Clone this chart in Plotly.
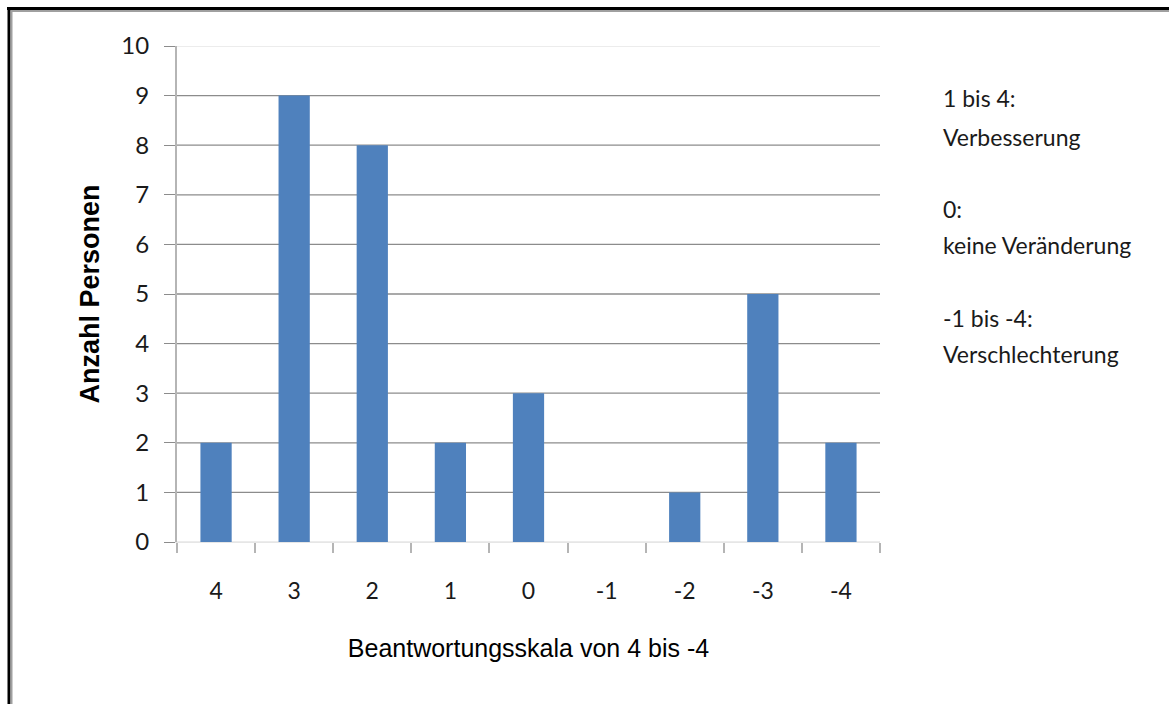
import plotly.graph_objects as go

# Response scale (categories) and number of persons per answer
categories = ["4", "3", "2", "1", "0", "-1", "-2", "-3", "-4"]
counts = [2, 9, 8, 2, 3, 0, 1, 5, 2]
y_ticks = list(range(0, 11))

legend_lines = [
    "1 bis 4:", "Verbesserung",
    "0:", "keine Veränderung",
    "-1 bis -4:", "Verschlechterung",
]
legend_rows_px = [98, 137, 209, 245, 318, 354]

W, H = 1169, 704
L, R, T, B = 177, 289, 46, 162
PW, PH = W - L - R, H - T - B


def px(x):
    return (x - L) / PW


def py(y):
    return (H - B - y) / PH


BAR = "#4F81BD"
GRID = "#8c8c8c"
LIGHT = "#e6e6e6"
TXT = "#1a1a1a"
BODY_FONT = "Lato"

fig = go.Figure(
    go.Bar(
        x=categories,
        y=counts,
        marker=dict(color=BAR, line=dict(width=0)),
        width=0.4,
    )
)

shapes = []
# horizontal gridlines at each integer value (top and bottom lines are lighter)
for v in y_ticks:
    shapes.append(dict(
        type="line", xref="paper", yref="y", x0=0, x1=1, y0=v, y1=v,
        line=dict(color=LIGHT if v in (0, 10) else GRID, width=1.3),
        layer="below",
    ))
# outer frame: black top/left edge with a thin grey inner line
shapes += [
    dict(type="line", xref="paper", yref="paper", x0=px(7), x1=px(W + 5),
         y0=py(8.5), y1=py(8.5), line=dict(color="#000000", width=3)),
    dict(type="line", xref="paper", yref="paper", x0=px(9), x1=px(9),
         y0=py(7), y1=py(H + 5), line=dict(color="#000000", width=3)),
    dict(type="line", xref="paper", yref="paper", x0=px(11), x1=px(W + 5),
         y0=py(11), y1=py(11), line=dict(color="#a0a0a0", width=2)),
    dict(type="line", xref="paper", yref="paper", x0=px(11.5), x1=px(11.5),
         y0=py(11), y1=py(H + 5), line=dict(color="#a0a0a0", width=2)),
]

annotations = [
    dict(text=line, xref="paper", yref="paper",
         x=px(941), y=py(row), xanchor="left", yanchor="middle", align="left",
         showarrow=False, font=dict(family=BODY_FONT, size=23, color=TXT))
    for line, row in zip(legend_lines, legend_rows_px)
]

fig.update_layout(
    width=W, height=H,
    margin=dict(l=L, r=R, t=T, b=B, pad=0),
    paper_bgcolor="white", plot_bgcolor="white",
    showlegend=False,
    bargap=0.6,
    shapes=shapes,
    annotations=annotations,
    xaxis=dict(
        type="category",
        showgrid=False, zeroline=False,
        showline=True, linecolor=LIGHT, linewidth=1,
        ticks="outside", tickson="boundaries", ticklen=10, tickcolor="#b5b5b5",
        tickwidth=2,
        ticklabelstandoff=28,
        tickfont=dict(family=BODY_FONT, size=23, color=TXT),
        title=dict(text="Beantwortungsskala von 4 bis -4", standoff=36,
                   font=dict(family="Liberation Sans", size=25, color="#000000")),
    ),
    yaxis=dict(
        range=[0, 10], tickvals=y_ticks,
        showgrid=False, zeroline=False,
        showline=True, linecolor="#b5b5b5", linewidth=2,
        ticks="outside", ticklen=11, tickcolor=GRID, tickwidth=1.3,
        ticklabelstandoff=10,
        tickfont=dict(family=BODY_FONT, size=24, color=TXT),
        title=dict(text="<b>Anzahl Personen</b>", standoff=14,
                   font=dict(family="Liberation Sans", size=27, color="#000000")),
    ),
)

fig.write_html("out.html")
